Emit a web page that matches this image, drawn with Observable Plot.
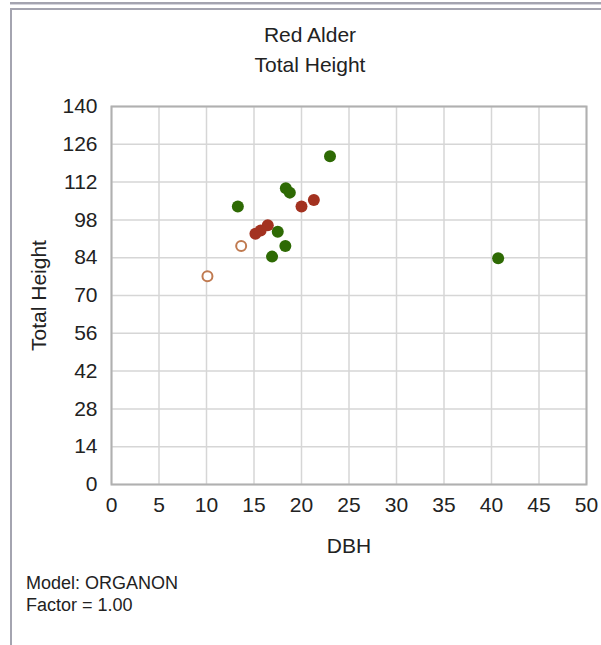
<!DOCTYPE html>
<html>
<head>
<meta charset="utf-8">
<script src="https://cdn.jsdelivr.net/npm/d3@7"></script>
<script src="https://cdn.jsdelivr.net/npm/@observablehq/plot@0.6"></script>
<style>
  html, body { margin: 0; padding: 0; background: #ffffff; }
  #page { position: relative; width: 601px; height: 645px; overflow: hidden; background: #fff;
          font-family: "Liberation Sans", Arial, sans-serif; color: #222; }
  .strip { position: absolute; left: 10px; top: 2px; width: 600px; height: 2px; background: #a4a4b0;
           border-bottom: 1px solid #d6d6de; }
  .panel { position: absolute; left: 10px; top: 8px; width: 600px; height: 650px;
           border-top: 2px solid #a4a4b0; border-left: 2px solid #a4a4b0; }
  .title { position: absolute; left: 12px; width: 596px; text-align: center; font-size: 21px; line-height: 24px; }
  .foot { position: absolute; left: 26px; font-size: 18px; line-height: 22px; }
  #chart { position: absolute; left: 0; top: 0; }
</style>
</head>
<body>
<div id="page">
  <div class="strip"></div>
  <div class="panel"></div>
  <div class="title" style="top:23px">Red Alder</div>
  <div class="title" style="top:53px">Total Height</div>
  <div id="chart"></div>
  <div class="foot" style="top:572px">Model: ORGANON</div>
  <div class="foot" style="top:594px">Factor = 1.00</div>
</div>
<script>
// Tick values
const xTicks = [0, 5, 10, 15, 20, 25, 30, 35, 40, 45, 50];
const yTicks = [0, 14, 28, 42, 56, 70, 84, 98, 112, 126, 140];

// Series (DBH, Total Height)
const greenDbh = [23.0, 18.35, 18.77, 13.3, 17.5, 18.3, 16.9, 40.7];
const greenHt  = [121.6, 109.7, 108.1, 103.0, 93.6, 88.3, 84.4, 83.8];
const redDbh   = [20.0, 21.3, 16.45, 15.7, 15.15];
const redHt    = [103.0, 105.4, 96.0, 94.1, 92.9];
const openDbh  = [13.65, 10.1];
const openHt   = [88.3, 77.1];

const toRows = (xs, ys) => xs.map((x, i) => ({dbh: x, ht: ys[i]}));
const green = toRows(greenDbh, greenHt);
const red = toRows(redDbh, redHt);
const open = toRows(openDbh, openHt);

const chart = Plot.plot({
  width: 601,
  height: 645,
  marginTop: 106,
  marginBottom: 161,
  marginLeft: 111,
  marginRight: 15,
  x: {domain: [0, 50]},
  y: {domain: [0, 140]},
  style: {fontFamily: "Liberation Sans, Arial, sans-serif", fontSize: "20px", background: "transparent", color: "#222", overflow: "visible"},
  marks: [
    Plot.gridX(xTicks, {stroke: "#d6d6d6", strokeOpacity: 1, strokeWidth: 1.5}),
    Plot.gridY(yTicks, {stroke: "#d6d6d6", strokeOpacity: 1, strokeWidth: 1.5}),
    Plot.frame({stroke: "#b0b0b0", strokeWidth: 2}),
    Plot.axisX(xTicks, {tickSize: 0, tickPadding: 13, label: null, fontSize: 21}),
    Plot.axisY(yTicks, {tickSize: 0, tickPadding: 14, label: null, fontSize: 21}),
    Plot.text(["DBH"], {text: d => d, frameAnchor: "bottom", dy: 62, lineAnchor: "middle", textAnchor: "middle", fontSize: 21}),
    Plot.text(["Total Height"], {text: d => d, frameAnchor: "left", dx: -72, rotate: -90, lineAnchor: "middle", textAnchor: "middle", fontSize: 21}),
    Plot.dot(green, {x: "dbh", y: "ht", r: 6, fill: "#2e6a04", stroke: "none"}),
    Plot.dot(red, {x: "dbh", y: "ht", r: 6, fill: "#a33220", stroke: "none"}),
    Plot.dot(open, {x: "dbh", y: "ht", r: 5, fill: "#ffffff", stroke: "#c07a50", strokeWidth: 2})
  ]
});
document.getElementById("chart").appendChild(chart);
</script>
</body>
</html>
